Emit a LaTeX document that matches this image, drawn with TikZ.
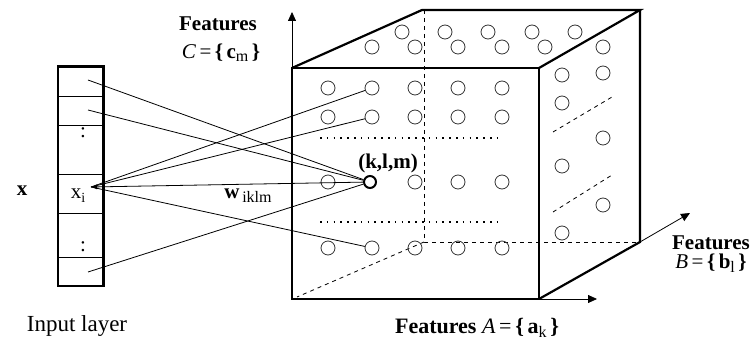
\documentclass[tikz,border=0pt]{standalone}
\usepackage{fontspec}
\setmainfont{Liberation Serif}
\usetikzlibrary{arrows.meta}
\newcommand{\lowsub}[1]{\raisebox{-0.35ex}{\fontsize{16}{16}\selectfont #1}}
\begin{document}
\begin{tikzpicture}[x=1pt,y=-1pt,
  thickedge/.style={line width=2.2pt, line join=miter},
  hiddenedge/.style={line width=0.8pt, dash pattern=on 4pt off 4pt},
  axis/.style={line width=0.8pt, -{Triangle[length=9pt,width=8pt]}},
  conn/.style={line width=0.8pt},
  dotrow/.style={line width=1.6pt, dash pattern=on 1.6pt off 5.2pt},
  unit/.style={circle, draw=black!80, line width=0.8pt, minimum size=14pt, inner sep=0pt},
  bigunit/.style={circle, draw=black, line width=2pt, minimum size=12pt, inner sep=0pt},
  lbl/.style={font=\fontsize{21}{24}\selectfont, inner sep=0pt},
  lblb/.style={font=\fontsize{21}{24}\selectfont\bfseries, inner sep=0pt},
  twoline/.style={font=\fontsize{21}{19}\selectfont, inner sep=0pt, align=center},
  cellbox/.style={draw, line width=0.8pt, minimum width=45pt, inner sep=0pt}
]
\useasboundingbox (0,0) rectangle (755,344);

% cube corners
\coordinate (ftl) at (292,68);
\coordinate (ftr) at (539,68);
\coordinate (fbr) at (539,299);
\coordinate (fbl) at (292,299);
\coordinate (btl) at (422,10);
\coordinate (btr) at (640,10);
\coordinate (bbr) at (640,242);
\coordinate (hbt) at (424,10);
\coordinate (hbb) at (424,242);
\coordinate (hdl) at (297,297);

% hidden edges
\draw[hiddenedge] (hbt) -- (hbb) -- (bbr);
\draw[hiddenedge] (hbb) -- (hdl);
\coordinate (r1a) at (553,132); \coordinate (r1b) at (612,97);
\coordinate (r2a) at (553,212); \coordinate (r2b) at (612,175);
\draw[hiddenedge] (r1a) -- (r1b);
\draw[hiddenedge] (r2a) -- (r2b);

% visible edges
\draw[thickedge] (ftl) rectangle (fbr);
\draw[thickedge] (ftl) -- (btl) -- (btr) -- (ftr);
\draw[thickedge] (btr) -- (bbr) -- (fbr);

% axes
\coordinate (axc) at (292,12);
\coordinate (axa) at (597,299);
\coordinate (axb) at (690,213);
\draw[axis] (ftl) -- (axc);
\draw[axis] (fbr) -- (axa);
\draw[axis] (bbr) -- (axb);

% dotted rows
\coordinate (d1a) at (320,138); \coordinate (d1b) at (499,138);
\coordinate (d2a) at (320,222); \coordinate (d2b) at (499,222);
\draw[dotrow] (d1a) -- (d1b);
\draw[dotrow] (d2a) -- (d2b);

% front face units
\foreach \c/\x in {1/328,2/372,3/415,4/458,5/502}{
  \node[unit] (u1\c) at (\x,88) {};
  \node[unit] (u2\c) at (\x,117) {};
  \node[unit] (u5\c) at (\x,248) {};
}
\node[unit] (u31) at (328,182) {};
\node[bigunit] (klm) at (370,182) {};
\node[unit] (u33) at (415,182) {};
\node[unit] (u34) at (458,182) {};
\node[unit] (u35) at (502,182) {};

% top face units
\foreach \i/\x in {1/402,2/445,3/488,4/532,5/575}{\node[unit] (ta\i) at (\x,32) {};}
\foreach \i/\x in {1/372,2/415,3/458,4/502,5/545}{\node[unit] (tb\i) at (\x,47) {};}

% right face units
\node[unit] (ra) at (603,47) {};
\node[unit] (rb) at (562,75) {};
\node[unit] (rc) at (603,73) {};
\node[unit] (rd) at (562,103) {};
\node[unit] (re) at (603,138) {};
\node[unit] (rf) at (562,166) {};
\node[unit] (rg) at (603,205) {};
\node[unit] (rh) at (562,233) {};

% input layer
\node[cellbox, minimum height=29pt] (cell1) at (80.5,81.5) {};
\node[cellbox, minimum height=29pt] (cell2) at (80.5,110.5) {};
\node[cellbox, minimum height=49pt] (cell3) at (80.5,149.5) {};
\node[cellbox, minimum height=39pt] (cell4) at (80.5,193.5) {};
\node[cellbox, minimum height=44pt] (cell5) at (80.5,235) {};
\node[cellbox, minimum height=29pt] (cell6) at (80.5,271.5) {};
\draw[thickedge] (cell1.north west) rectangle (cell6.south east);

\node[lbl] (dots1) at (83,133) {:};
\node[lbl] (dots2) at (83,247) {:};
\node[lbl, anchor=base] (xi) at (78,199) {x\raisebox{-0.35ex}{\fontsize{14}{14}\selectfont i}};

\coordinate (p1) at (88,80);
\coordinate (p2) at (88,110);
\coordinate (p6) at (88,272);
\coordinate (pxi) at (91,187);

% connections
\draw[conn] (p1) -- (klm);
\draw[conn] (p2) -- (klm);
\draw[conn] (p6) -- (klm);
\draw[conn] (pxi) -- (u12);
\draw[conn] (pxi) -- (u22);
\draw[conn, {Latex[length=6pt,width=5pt]}-] (pxi) -- (klm);
\draw[conn] (pxi) -- (u52);

% labels
\node[lbl, anchor=base] (w) at (248,199) {\textbf{w}\lowsub{\,iklm}};
\node[lblb] (klmlbl) at (388,163) {(k,l,m)};
\node[lblb] (xlbl) at (22,191) {x};
\node[lbl, font=\fontsize{23}{26}\selectfont] (inlbl) at (77,326) {Input layer};
\node[lblb] (fc) at (218,24) {Features};
\node[lbl] (cset) at (221,53) {\textit{C}\,=\,\textbf{\{\,c}\lowsub{m}\,\textbf{\}}};
\node[twoline] (fb) at (711,254) {\textbf{Features}\\\textit{B}\,=\,\textbf{\{\,b}\lowsub{l}\,\textbf{\}}};
\node[lbl, font=\fontsize{22}{24}\selectfont] (fa) at (477,328) {\textbf{Features} \textit{A}\,=\,\textbf{\{\,a}\lowsub{k}\,\textbf{\}}};
\end{tikzpicture}
\end{document}
